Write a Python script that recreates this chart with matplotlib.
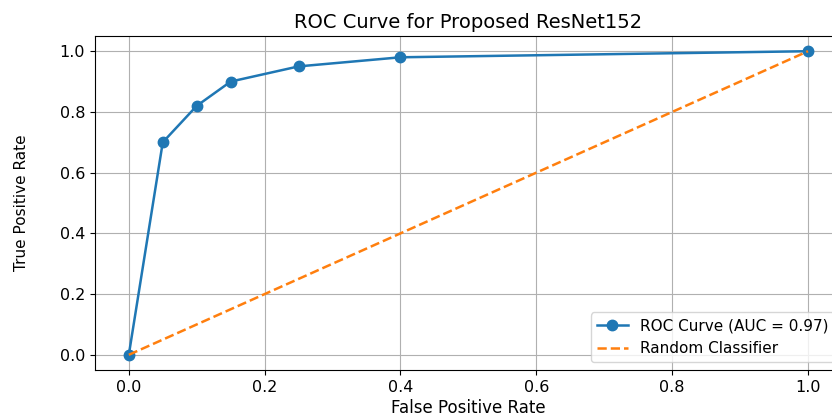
import matplotlib.pyplot as plt

fpr = [0.0, 0.05, 0.1, 0.15, 0.25, 0.4, 1.0]
tpr = [0.0, 0.70, 0.82, 0.90, 0.95, 0.98, 1.0]
auc = 0.97
diag = [0.0, 1.0]

fig = plt.figure(figsize=(8.32, 4.19), dpi=100)
ax = fig.add_axes([0.114, 0.117, 0.898, 0.797])

ax.plot(fpr, tpr, marker='o', markersize=7.5, linewidth=1.8, color='tab:blue',
        label='ROC Curve (AUC = %.2f)' % auc)
ax.plot(diag, diag, linestyle='--', linewidth=1.8, color='tab:orange', label='Random Classifier')

ax.set_title('ROC Curve for Proposed ResNet152', fontsize=14)
ax.set_xlabel('False Positive Rate', fontsize=12, labelpad=3)
ax.set_ylabel('True Positive Rate', fontsize=11, labelpad=22)
ax.tick_params(labelsize=11.5)
ax.grid(True)
ax.legend(loc='lower right', fontsize=11)

plt.savefig('out.png', dpi=100)
